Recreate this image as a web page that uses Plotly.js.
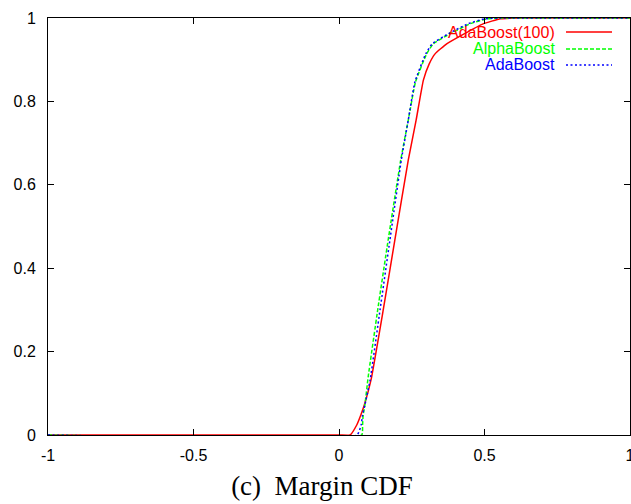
<!DOCTYPE html>
<html>
<head>
<meta charset="utf-8">
<script src="https://cdn.plot.ly/plotly-3.0.1.min.js"></script>
<style>html,body{margin:0;padding:0;background:#fff;}#chart{width:631px;height:504px;}</style>
</head>
<body>
<div id="chart"></div>
<script>
// AdaBoost(100)
var adaBoost100X = [-1, 0.0, 0.038, 0.061, 0.075, 0.087, 0.11, 0.152, 0.192, 0.238, 0.265, 0.29, 0.31, 0.33, 0.37, 0.43, 0.495, 0.555, 0.62, 1];
var adaBoost100Y = [0, 0, 0, 0.024, 0.048, 0.072, 0.132, 0.30, 0.468, 0.659, 0.755, 0.851, 0.89, 0.914, 0.938, 0.962, 0.986, 0.998, 1, 1];
// AlphaBoost
var alphaBoostX = [-1, 0.078, 0.081, 0.083, 0.089, 0.100, 0.133, 0.169, 0.212, 0.238, 0.263, 0.301, 0.324, 0.381, 0.45, 0.507, 0.56, 1];
var alphaBoostY = [0, 0, 0.024, 0.048, 0.072, 0.138, 0.30, 0.468, 0.659, 0.755, 0.847, 0.914, 0.938, 0.962, 0.986, 0.998, 1, 1];
// AdaBoost
var adaBoostX = [-1, 0.062, 0.076, 0.081, 0.089, 0.107, 0.141, 0.175, 0.214, 0.238, 0.261, 0.298, 0.32, 0.375, 0.443, 0.50, 0.55, 1];
var adaBoostY = [0, 0, 0.024, 0.048, 0.072, 0.132, 0.30, 0.468, 0.659, 0.755, 0.847, 0.914, 0.938, 0.962, 0.986, 0.998, 1, 1];

var seriesNames = ['AdaBoost(100)', 'AlphaBoost', 'AdaBoost'];
var seriesColors = ['#ff0000', '#00ff00', '#0000ff'];
var seriesDash = ['solid', '4px,2px', '2px,2.5px'];

var xTicks = [-1, -0.5, 0, 0.5, 1];
var xTickLabels = ['-1', '-0.5', '0', '0.5', '1'];
var yTicks = [0, 0.2, 0.4, 0.6, 0.8, 1];
var yTickLabels = ['0', '0.2', '0.4', '0.6', '0.8', '1'];
var chartTitle = '(c)\u00a0 Margin CDF';

var xs = [adaBoost100X, alphaBoostX, adaBoostX];
var ys = [adaBoost100Y, alphaBoostY, adaBoostY];

var traces = seriesNames.map(function (n, i) {
  return {
    x: xs[i], y: ys[i], name: n, type: 'scatter', mode: 'lines',
    line: {color: seriesColors[i], width: 1.5, dash: seriesDash[i], shape: 'spline', smoothing: 0.4},
    showlegend: false
  };
});

// custom gnuplot-style legend (text right, sample left)
var annotations = [];
var shapes = [];
var legendRowsPx = [32, 49, 65];
seriesNames.forEach(function (n, i) {
  var yp = 1 - (legendRowsPx[i] - 18) / 417;
  annotations.push({
    xref: 'paper', yref: 'paper', x: (556 - 48) / 582, y: yp,
    xanchor: 'right', yanchor: 'middle', showarrow: false, text: n,
    borderpad: 0,
    font: {family: 'Liberation Sans, Arial, sans-serif', size: 16, color: seriesColors[i]}
  });
  shapes.push({
    type: 'line', xref: 'paper', yref: 'paper',
    x0: (566 - 48) / 582, x1: (612 - 48) / 582, y0: yp, y1: yp,
    line: {color: seriesColors[i], width: 1.5, dash: seriesDash[i]}
  });
});

var axisCommon = {
  showgrid: false, zeroline: false, showline: true, linecolor: '#000', linewidth: 1,
  mirror: 'ticks', ticks: 'inside', ticklen: 6, tickcolor: '#000', tickwidth: 1,
  ticklabeloverflow: 'allow',
  tickfont: {family: 'Liberation Sans, Arial, sans-serif', size: 16, color: '#000'}
};

var layout = {
  width: 631, height: 504,
  margin: {l: 48, r: 1, t: 18, b: 69},
  paper_bgcolor: '#fff', plot_bgcolor: '#fff',
  title: {
    text: chartTitle, xref: 'container', yref: 'container',
    x: 322 / 631, xanchor: 'center', y: 1 - 486 / 504, yanchor: 'middle',
    font: {family: 'Liberation Serif, Times New Roman, serif', size: 27, color: '#000'}
  },
  xaxis: Object.assign({}, axisCommon, {
    range: [-1, 1], tickmode: 'array', tickvals: xTicks, ticktext: xTickLabels, ticklabelstandoff: 6
  }),
  yaxis: Object.assign({}, axisCommon, {
    range: [0, 1], tickmode: 'array', tickvals: yTicks, ticktext: yTickLabels, ticklabelstandoff: 8
  }),
  annotations: annotations,
  shapes: shapes
};

Plotly.newPlot('chart', traces, layout, {staticPlot: true, displayModeBar: false});
</script>
</body>
</html>
